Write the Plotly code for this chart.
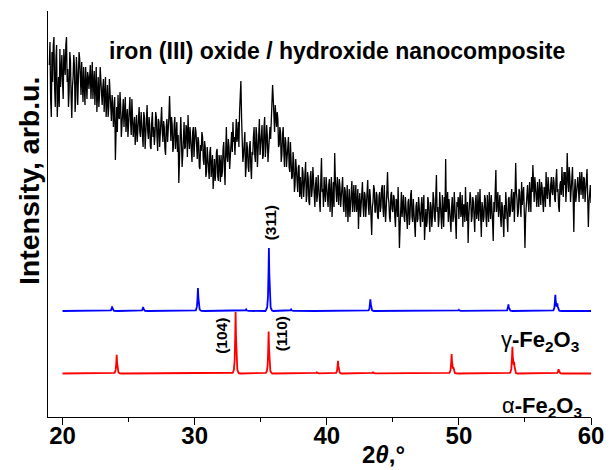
import numpy as np
import plotly.graph_objects as go

# ---------------- data ----------------
# measured pattern, read at 2theta = 19.0, 19.1, ... 60.0 (intensity, arb. units)
theta_start, theta_step = 19.0, 0.1
sample_intensity = [
    352, 318, 365, 372, 330, 358, 300, 340, 368, 345,
    335, 368, 342, 380, 348, 325, 356, 299, 340, 352,
    318, 345, 330, 358, 322, 340, 350, 312, 336, 345,
    328, 352, 338, 318, 346, 330, 305, 340, 322, 335,
    312, 338, 318, 300, 332, 310, 325, 296, 315, 305,
    257, 310, 322, 298, 312, 290, 318, 300, 285, 308,
    295, 320, 282, 305, 290, 272, 302, 288, 310, 280,
    296, 270, 300, 285, 312, 278, 292, 268, 305, 290,
    282, 300, 266, 295, 280, 310, 275, 290, 262, 298,
    285, 321, 276, 292, 270, 300, 280, 265, 234, 290,
    278, 262, 295, 270, 288, 302, 268, 280, 255, 290,
    272, 285, 258, 276, 248, 266, 280, 252, 270, 245,
    262, 238, 270, 250, 228, 258, 244, 268, 236, 255,
    262, 245, 275, 232, 290, 255, 270, 262, 285, 295,
    280, 290, 275, 295, 305, 336, 272, 262, 285, 250,
    268, 245, 276, 238, 262, 290, 255, 282, 265, 298,
    270, 292, 262, 300, 270, 282, 265, 290, 300, 332,
    305, 312, 290, 298, 272, 285, 262, 290, 250, 275,
    258, 280, 245, 262, 240, 255, 232, 248, 225, 252,
    240, 218, 245, 230, 255, 222, 238, 212, 246, 228,
    235, 210, 240, 222, 230, 205, 259, 228, 240, 215,
    232, 210, 238, 222, 200, 235, 264, 225, 240, 212,
    230, 218, 240, 205, 226, 215, 195, 228, 210, 236,
    218, 205, 232, 212, 188, 224, 215, 235, 200, 222,
    210, 237, 202, 220, 182, 215, 228, 205, 222, 198,
    225, 210, 232, 200, 218, 208, 245, 215, 195, 225,
    205, 220, 190, 215, 230, 169, 212, 200, 222, 195,
    210, 188, 218, 200, 227, 195, 206, 180, 215, 198,
    212, 190, 220, 205, 177, 208, 196, 215, 185, 210,
    200, 218, 195, 242, 210, 198, 215, 188, 205, 220,
    258, 212, 195, 208, 185, 220, 200, 215, 178, 210,
    198, 225, 205, 190, 212, 230, 196, 174, 208, 218,
    200, 215, 185, 222, 205, 196, 228, 180, 210, 200,
    218, 190, 210, 225, 198, 212, 176, 205, 247, 215,
    200, 222, 190, 210, 180, 198, 215, 185, 220, 205,
    228, 210, 195, 254, 218, 205, 225, 200, 212, 230,
    169, 215, 232, 205, 220, 240, 252, 215, 230, 210,
    225, 238, 212, 230, 205, 228, 245, 218, 232, 210,
    240, 222, 235, 215, 248, 228, 205, 236, 250, 220,
    232, 215, 264, 225, 240, 230, 250, 185, 238, 222,
    240, 215, 235, 245, 218, 238, 225, 248, 190, 230,
    214,
]
# measured pattern, read at the half steps 2theta = 19.05, 19.15, ... 59.95
sample_intensity_mid = [
    375, 300, 335, 380, 310, 372, 325, 310, 330, 362,
    318, 350, 372, 335, 310, 365, 320, 330, 362, 305,
    360, 312, 365, 330, 355, 315, 328, 350, 318, 340,
    345, 318, 355, 340, 312, 350, 330, 310, 350, 320,
    330, 305, 340, 320, 300, 338, 300, 322, 290, 320,
    300, 285, 300, 325, 280, 310, 290, 320, 305, 280,
    310, 295, 318, 280, 300, 295, 275, 305, 285, 305,
    280, 305, 268, 302, 285, 300, 270, 295, 280, 272,
    305, 280, 298, 270, 300, 285, 296, 268, 290, 275,
    300, 290, 300, 265, 292, 268, 295, 282, 262, 300,
    250, 285, 268, 292, 260, 280, 290, 262, 285, 260,
    290, 262, 280, 250, 272, 285, 258, 276, 240, 270,
    245, 265, 240, 262, 255, 236, 265, 240, 262, 235,
    240, 268, 250, 265, 260, 278, 248, 280, 265, 275,
    262, 298, 280, 270, 328, 300, 255, 280, 240, 275,
    250, 270, 250, 265, 280, 262, 290, 250, 285, 262,
    282, 258, 290, 260, 292, 255, 285, 278, 320, 318,
    285, 300, 305, 270, 290, 255, 282, 265, 280, 250,
    270, 250, 275, 238, 265, 225, 258, 230, 250, 220,
    225, 250, 220, 248, 215, 245, 215, 240, 220, 250,
    220, 232, 215, 242, 212, 238, 225, 210, 225, 240,
    215, 232, 205, 240, 222, 210, 238, 215, 220, 238,
    210, 235, 212, 230, 200, 232, 222, 200, 230, 205,
    232, 220, 205, 228, 215, 200, 230, 210, 225, 200,
    222, 210, 228, 200, 210, 232, 205, 225, 200, 220,
    205, 228, 210, 232, 195, 228, 220, 200, 222, 208,
    222, 200, 218, 200, 205, 190, 225, 215, 200, 220,
    195, 215, 192, 222, 200, 218, 190, 210, 195, 220,
    200, 212, 195, 222, 200, 190, 220, 200, 215, 190,
    225, 200, 220, 205, 190, 225, 200, 222, 190, 205,
    205, 225, 218, 195, 210, 195, 225, 195, 215, 220,
    215, 200, 222, 212, 195, 205, 215, 200, 225, 195,
    220, 195, 215, 198, 225, 210, 200, 215, 195, 222,
    200, 222, 195, 205, 222, 195, 215, 225, 205, 225,
    218, 200, 215, 195, 212, 225, 200, 218, 200, 220,
    205, 225, 220, 225, 200, 228, 210, 235, 222, 205,
    200, 230, 215, 235, 205, 225, 230, 240, 212, 235,
    210, 222, 235, 215, 230, 210, 225, 240, 218, 232,
    225, 240, 218, 238, 225, 210, 232, 222, 230, 245,
    245, 230, 238, 250, 215, 242, 220, 225, 215, 235,
    228, 245, 222, 230, 240, 215, 242, 220, 215, 232,
]

# reference patterns: peak positions (2theta) and heights (arb. units)
gamma_pos = [23.75, 26.1, 30.25, 33.9, 35.62, 37.3, 43.3, 50.0, 53.75, 57.3, 57.45]
gamma_h   = [4.5,   4.0,  23.0,  1.5,  63.0,  1.5,  11.7, 1.2,  6.7,   16.0, 7.0]
alpha_pos = [24.1, 33.1, 35.6, 39.25, 40.85, 43.5, 49.45, 49.58, 54.05, 54.18, 57.55]
alpha_h   = [18.7, 61.4, 42.0, 1.2,   12.7,  1.2,  19.0,  5.0,   26.0,  10.0,  4.4]

# peak labels
hkl_labels = ["(311)", "(104)", "(110)"]

# ---------------- styling / layout constants ----------------
gamma_offset = 106.0
alpha_offset = 43.5
FONT = "Liberation Sans, Arial, sans-serif"

theta_main = theta_start + theta_step * np.arange(len(sample_intensity))
theta_mid = theta_start + theta_step / 2 + theta_step * np.arange(len(sample_intensity_mid))
theta_all = np.concatenate([theta_main, theta_mid])
inten_all = np.concatenate([np.array(sample_intensity, float), np.array(sample_intensity_mid, float)])
order = np.argsort(theta_all)
theta_all, inten_all = theta_all[order], inten_all[order]

# build reference profiles from the peak lists
grid = np.round(np.arange(20.0, 60.0001, 0.01), 3)
prof_d = [0.0, 0.03, 0.06, 0.1, 0.16, 0.26]
prof_f = [1.0, 0.6, 0.28, 0.1, 0.03, 0.0]


def pattern(pos, h, offset):
    y = np.full_like(grid, offset, dtype=float)
    for p, hh in zip(pos, h):
        y += hh * np.interp(np.abs(grid - p), prof_d, prof_f)
    return y


fig = go.Figure()
fig.add_trace(go.Scatter(x=theta_all, y=inten_all, mode="lines",
                         line=dict(color="black", width=1.3), showlegend=False))
fig.add_trace(go.Scatter(x=grid, y=pattern(gamma_pos, gamma_h, gamma_offset), mode="lines",
                         line=dict(color="#0000ff", width=1.8), showlegend=False))
fig.add_trace(go.Scatter(x=grid, y=pattern(alpha_pos, alpha_h, alpha_offset), mode="lines",
                         line=dict(color="#ff0000", width=1.8), showlegend=False))


def ann(x, y, text, size, xref="x", yref="y", angle=0, xanchor="center"):
    return dict(x=x, y=y, xref=xref, yref=yref, xanchor=xanchor, yanchor="middle",
                textangle=angle, text=text, showarrow=False,
                font=dict(family=FONT, size=size, color="black"))


annotations = [
    ann(23.4, 366, "<b>iron (III) oxide / hydroxide nanocomposite</b>", 23, xanchor="left"),
    ann(35.73, 194, "<b>" + hkl_labels[0] + "</b>", 15.5, angle=-90),
    ann(32.02, 81.5, "<b>" + hkl_labels[1] + "</b>", 15.5, angle=-90),
    ann(36.6, 83.5, "<b>" + hkl_labels[2] + "</b>", 15.5, angle=-90),
    ann(53.0, 76, "γ<b>-Fe<sub>2</sub>O<sub>3</sub></b>", 22, xanchor="left"),
    ann(53.1, 10, "α<b>-Fe<sub>2</sub>O<sub>3</sub></b>", 22, xanchor="left"),
    ann((29 - 48) / 546, (417 - 181) / 406, "<b>Intensity, arb.u.</b>", 28.5,
        xref="paper", yref="paper", angle=-90),
    ann((385 - 48) / 546, -(454 - 417) / 406, "<b>2<i>θ</i>,°</b>", 24,
        xref="paper", yref="paper"),
]

tickvals = [20, 30, 40, 50, 60]
fig.update_layout(
    width=615, height=470,
    margin=dict(l=48, r=21, t=11, b=53, pad=0),
    paper_bgcolor="white", plot_bgcolor="white",
    annotations=annotations,
    xaxis=dict(range=[18.9, 60.0], showgrid=False, zeroline=False,
               showline=True, linecolor="black", linewidth=1.3,
               ticks="outside", ticklen=7, tickwidth=1.3, tickcolor="black",
               tickvals=tickvals, ticktext=["<b>%d</b>" % v for v in tickvals],
               tickfont=dict(family=FONT, size=24, color="black", weight="bold"),
               ticklabelstandoff=-10,
               minor=dict(tickvals=[25, 35, 45, 55], ticks="outside", ticklen=4,
                          tickwidth=1.3, tickcolor="black")),
    yaxis=dict(range=[0, 406], showgrid=False, zeroline=False,
               showline=True, linecolor="black", linewidth=1.3,
               ticks="", showticklabels=False),
)

fig.write_html("out.html")
